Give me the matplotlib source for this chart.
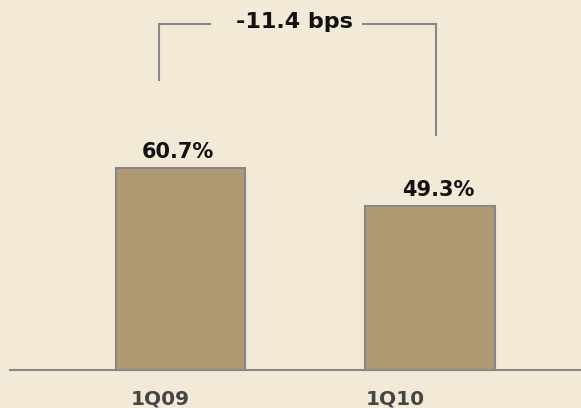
import matplotlib.pyplot as plt

quarters = ['1Q09', '1Q10']
ratios = [60.7, 49.3]
label_shift = [-0.08, -0.14]
value_shift = [-0.01, 0.032]

bg = '#F2EAD6'
bar_color = '#B09A73'
edge = '#878787'

fig = plt.figure(figsize=(5.81, 4.08), dpi=100, facecolor=bg)
ax = fig.add_axes([0, 0, 1, 1], facecolor=bg)

xs = list(range(len(ratios)))
ax.bar(xs, ratios, width=0.52, color=bar_color, edgecolor=edge, linewidth=1.5, zorder=3)
ax.axhline(0, xmin=0.017, xmax=1, color=edge, linewidth=1.5, zorder=2)

for x, v, q, s, vs in zip(xs, ratios, quarters, label_shift, value_shift):
    ax.text(x + vs, v + 3.0, f'{v:.1f}%', ha='center', va='baseline',
            fontsize=15, fontweight='bold', color='#111111')
    ax.text(x + s, -8.6, q, ha='center', va='center',
            fontsize=14.5, fontweight='bold', color='#454545')

# change bracket between the two quarters
top = 104.0
xl, xr = -0.086, 1.024
ax.plot([xl, xl], [87.0, top], color=edge, lw=1.5)
ax.plot([xl + 0.01, 0.12], [top, top], color=edge, lw=1.5)
ax.plot([0.73, xr], [top, top], color=edge, lw=1.5)
ax.plot([xr, xr], [top, 70.5], color=edge, lw=1.5)
ax.text(0.458, top + 0.4, f'{ratios[1] - ratios[0]:.1f} bps', ha='center', va='center',
        fontsize=16, fontweight='bold', color='#111111')

ax.set_xlim(-0.723, 1.605)
ax.set_ylim(-11.4, 111.1)
ax.axis('off')

fig.savefig('out.png', dpi=100, facecolor=bg)
